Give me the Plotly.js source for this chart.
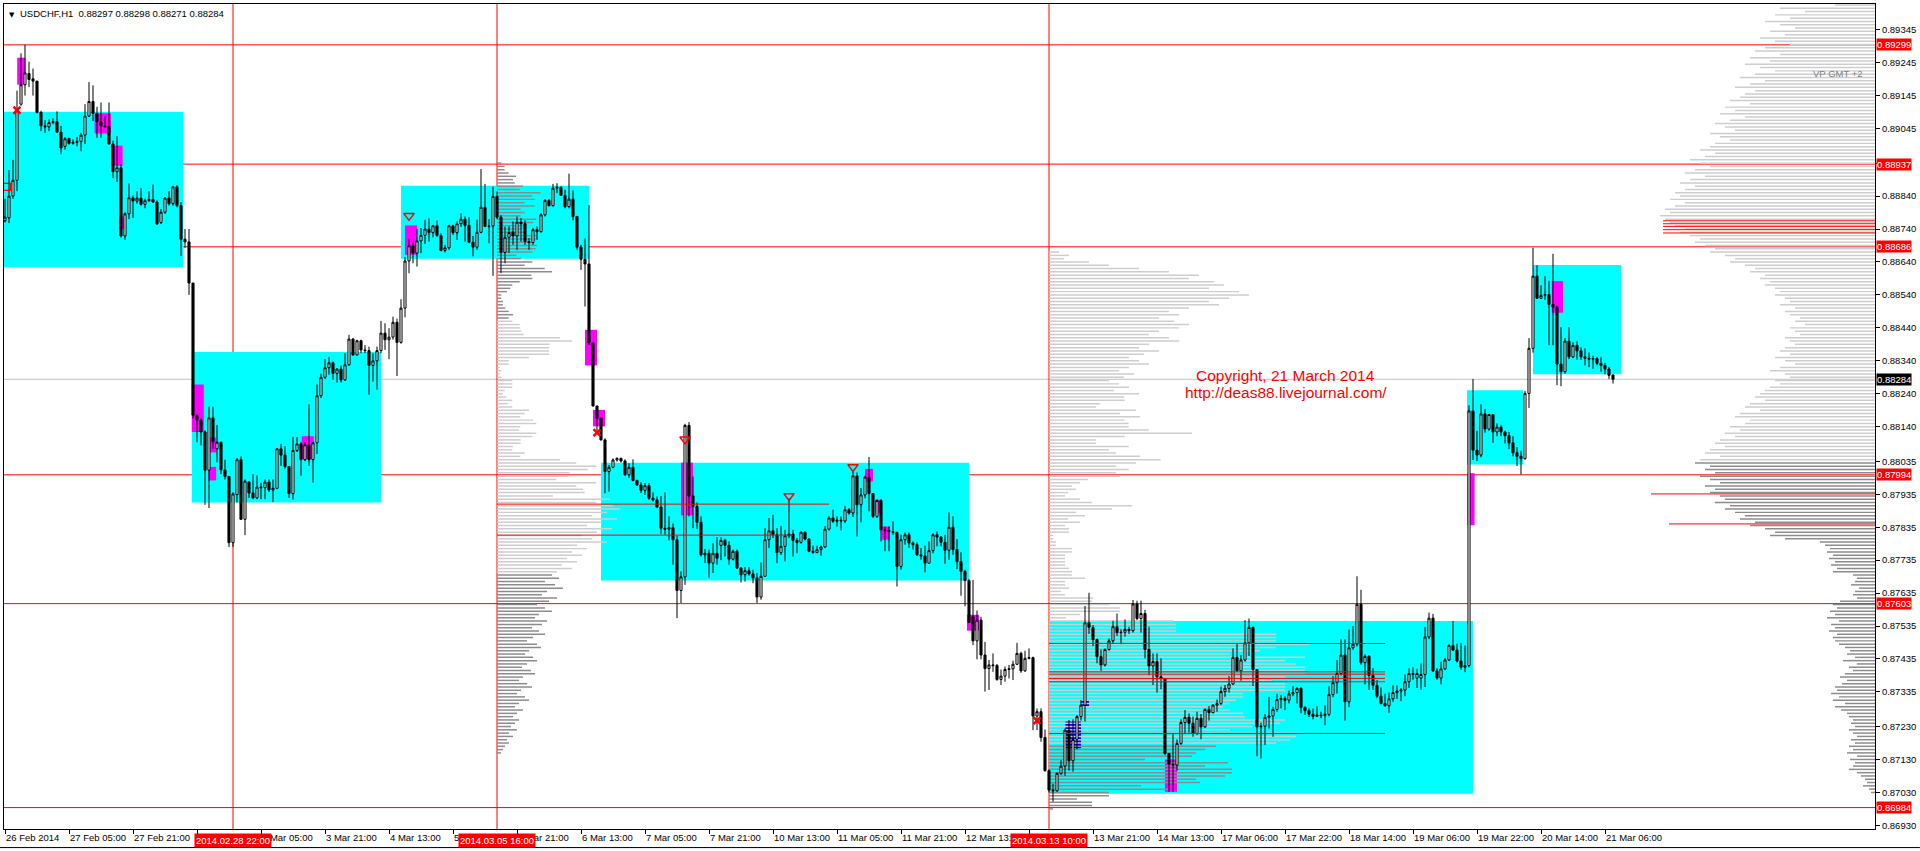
<!DOCTYPE html>
<html><head><meta charset="utf-8">
<script src="https://cdn.plot.ly/plotly-3.0.1.min.js"></script>
<style>html,body{margin:0;padding:0;background:#fff;overflow:hidden}#chart{width:1920px;height:851px}</style>
</head><body><div id="chart"></div>
<script>
// ---------- candles (USDCHF H1), bar index 0 = 26 Feb 2014 13:00 ----------
const openP = [
.88765,.88774,.88840,.88888,.89119,.89178,.89212,.89196,.89189,.89094,
.89053,.89050,.89063,.89066,.89034,.88991,.89015,.89000,.89003,.89006,
.89025,.89083,.89127,.89091,.89066,.89053,.89051,.88998,.88914,.88926,
.88719,.88786,.88835,.88825,.88834,.88815,.88826,.88830,.88822,.88760,
.88791,.88834,.88817,.88868,.88811,.88709,.88701,.88576,.88175,.88160,
.88124,.88008,.88167,.88073,.88093,.88009,.87989,.87788,.87934,.88040,
.87859,.87972,.87939,.87924,.87957,.87955,.87972,.87948,.87953,.88073,
.88054,.88019,.87937,.88068,.88088,.88040,.88085,.88040,.88091,.88234,
.88290,.88319,.88334,.88302,.88315,.88282,.88328,.88406,.88358,.88401,
.88373,.88371,.88326,.88340,.88371,.88424,.88404,.88412,.88457,.88396,
.88500,.88643,.88689,.88667,.88704,.88721,.88740,.88729,.88750,.88720,
.88675,.88683,.88750,.88729,.88756,.88770,.88751,.88700,.88685,.88730,
.88806,.88748,.88749,.88839,.88776,.88669,.88715,.88732,.88719,.88761,
.88756,.88702,.88699,.88738,.88732,.88783,.88827,.88811,.88864,.88867,
.88842,.88808,.88831,.88778,.88685,.88648,.88634,.88394,.88203,.88166,
.88100,.88004,.88017,.88039,.88044,.88036,.87994,.88017,.87977,.87963,
.87947,.87961,.87923,.87918,.87896,.87832,.87829,.87834,.87797,.87643,
.87684,.88144,.87930,.87898,.87850,.87751,.87756,.87726,.87756,.87780,
.87795,.87780,.87738,.87762,.87711,.87691,.87703,.87693,.87681,.87623,
.87686,.87797,.87824,.87812,.87758,.87777,.87809,.87814,.87795,.87789,
.87820,.87799,.87762,.87758,.87767,.87775,.87829,.87863,.87853,.87856,
.87854,.87888,.87878,.87991,.87903,.87933,.87987,.87937,.87868,.87916,
.87827,.87825,.87822,.87819,.87716,.87797,.87812,.87787,.87782,.87751,
.87748,.87726,.87764,.87812,.87805,.87789,.87765,.87835,.87767,.87731,
.87701,.87673,.87563,.87490,.87553,.87447,.87406,.87417,.87415,.87373,
.87383,.87403,.87405,.87419,.87452,.87399,.87437,.87439,.87262,.87275,
.87197,.87096,.87037,.87035,.87088,.87110,.87219,.87126,.87191,.87260,
.87295,.87545,.87531,.87494,.87442,.87417,.87464,.87490,.87533,.87515,
.87516,.87525,.87521,.87602,.87558,.87573,.87464,.87414,.87427,.87381,
.87376,.87148,.87116,.87113,.87179,.87242,.87258,.87240,.87209,.87255,
.87229,.87282,.87272,.87295,.87300,.87336,.87346,.87359,.87440,.87399,
.87432,.87484,.87531,.87403,.87229,.87231,.87258,.87262,.87282,.87312,
.87315,.87310,.87329,.87333,.87346,.87288,.87278,.87267,.87261,.87265,
.87263,.87267,.87327,.87363,.87391,.87447,.87305,.87469,.87480,.87601,
.87424,.87443,.87385,.87355,.87322,.87300,.87293,.87314,.87333,.87338,
.87341,.87366,.87388,.87377,.87377,.87388,.87502,.87559,.87399,.87377,
.87405,.87432,.87476,.87462,.87429,.87410,.87415,.88188,.88069,.88054,
.88179,.88133,.88177,.88124,.88139,.88124,.88113,.88091,.88061,.88050,
.88043,.88241,.88378,.88597,.88530,.88539,.88541,.88511,.88503,.88330,
.88307,.88400,.88352,.88387,.88370,.88352,.88348,.88345,.88347,.88332,
.88326,.88315,.88297];
const highP = [
.88832,.88919,.88950,.89160,.89273,.89299,.89248,.89227,.89189,.89099,
.89070,.89073,.89076,.89097,.89053,.89019,.89017,.89012,.89019,.89032,
.89119,.89186,.89176,.89111,.89124,.89083,.89124,.89008,.89022,.88935,
.88791,.88878,.88842,.88855,.88865,.88832,.88855,.88875,.88827,.88801,
.88837,.88855,.88871,.88873,.88822,.88740,.88740,.88576,.88178,.88165,
.88129,.88201,.88201,.88145,.88095,.88040,.87989,.87941,.88045,.88050,
.87980,.87975,.87996,.87992,.87970,.87980,.87980,.87980,.88075,.88088,
.88081,.88021,.88109,.88109,.88094,.88093,.88208,.88095,.88268,.88301,
.88345,.88352,.88338,.88318,.88325,.88363,.88419,.88409,.88404,.88404,
.88388,.88383,.88363,.88383,.88461,.88454,.88439,.88474,.88468,.88527,
.88655,.88711,.88699,.88741,.88743,.88768,.88773,.88753,.88766,.88727,
.88692,.88753,.88753,.88763,.88788,.88778,.88776,.88719,.88768,.88922,
.88877,.88770,.88869,.88854,.88783,.88747,.88748,.88763,.88778,.88773,
.88766,.88712,.88743,.88748,.88788,.88831,.88831,.88877,.88879,.88869,
.88859,.88908,.88857,.88780,.88692,.88712,.88813,.88394,.88203,.88166,
.88105,.88024,.88044,.88047,.88046,.88041,.88029,.88041,.87979,.87971,
.87969,.87969,.87941,.87928,.87930,.87941,.87868,.87847,.87809,.87701,
.88149,.88154,.87989,.87910,.87868,.87769,.87767,.87787,.87805,.87805,
.87800,.87792,.87767,.87767,.87714,.87714,.87714,.87706,.87696,.87728,
.87832,.87863,.87873,.87832,.87839,.87827,.87923,.87827,.87802,.87822,
.87822,.87802,.87779,.87779,.87779,.87839,.87868,.87888,.87868,.87868,
.87900,.87893,.88004,.88001,.87954,.87991,.88048,.87939,.87920,.87920,
.87837,.87837,.87853,.87822,.87812,.87819,.87819,.87792,.87789,.87772,
.87779,.87792,.87817,.87822,.87808,.87812,.87880,.87868,.87799,.87759,
.87706,.87678,.87675,.87582,.87563,.87487,.87432,.87452,.87420,.87403,
.87412,.87417,.87430,.87484,.87457,.87460,.87467,.87442,.87285,.87285,
.87221,.87100,.87057,.87090,.87128,.87224,.87250,.87252,.87265,.87310,
.87596,.87636,.87538,.87497,.87464,.87467,.87497,.87551,.87573,.87525,
.87555,.87533,.87614,.87612,.87612,.87584,.87533,.87452,.87452,.87437,
.87376,.87150,.87209,.87191,.87252,.87280,.87270,.87260,.87275,.87268,
.87285,.87292,.87298,.87312,.87351,.87356,.87383,.87467,.87482,.87447,
.87553,.87558,.87533,.87403,.87242,.87268,.87320,.87290,.87329,.87326,
.87322,.87339,.87353,.87349,.87349,.87292,.87285,.87285,.87292,.87275,
.87294,.87352,.87383,.87432,.87495,.87495,.87524,.87535,.87686,.87645,
.87449,.87447,.87407,.87371,.87349,.87330,.87333,.87355,.87355,.87347,
.87388,.87407,.87410,.87405,.87421,.87532,.87576,.87572,.87407,.87427,
.87438,.87480,.87550,.87482,.87484,.87476,.88205,.88285,.88128,.88208,
.88194,.88179,.88177,.88150,.88144,.88128,.88124,.88111,.88078,.88067,
.88249,.88409,.88683,.88630,.88569,.88597,.88583,.88665,.88508,.88442,
.88409,.88442,.88396,.88400,.88381,.88378,.88365,.88356,.88352,.88352,
.88334,.88321,.88298];
const lowP = [
.88760,.88758,.88832,.88855,.89114,.89145,.89171,.89145,.89091,.89037,
.89032,.89037,.89058,.89032,.88967,.88981,.88996,.88996,.88991,.88976,
.88998,.89080,.89068,.89017,.89017,.89047,.88996,.88894,.88883,.88714,
.88707,.88770,.88774,.88817,.88811,.88803,.88823,.88820,.88752,.88755,
.88786,.88811,.88811,.88806,.88658,.88683,.88540,.88165,.88093,.88083,
.87903,.87893,.88073,.88032,.87996,.87980,.87775,.87775,.87910,.87859,
.87811,.87924,.87920,.87920,.87920,.87920,.87942,.87911,.87950,.88021,
.88013,.87924,.87919,.88063,.87991,.88035,.88021,.87970,.88057,.88227,
.88285,.88298,.88282,.88274,.88274,.88279,.88325,.88355,.88356,.88363,
.88363,.88237,.88277,.88252,.88363,.88373,.88345,.88404,.88294,.88392,
.88472,.88606,.88636,.88626,.88667,.88695,.88702,.88715,.88717,.88672,
.88669,.88677,.88722,.88707,.88746,.88702,.88697,.88657,.88677,.88727,
.88746,.88697,.88598,.88770,.88606,.88636,.88667,.88692,.88677,.88702,
.88692,.88677,.88692,.88707,.88729,.88778,.88808,.88808,.88849,.88841,
.88803,.88803,.88766,.88677,.88616,.88505,.88388,.88201,.88125,.88098,
.87938,.87943,.88014,.88034,.88031,.87991,.87984,.87974,.87960,.87939,
.87933,.87918,.87913,.87893,.87815,.87812,.87795,.87721,.87559,.87605,
.87660,.87868,.87832,.87829,.87746,.87726,.87681,.87696,.87721,.87735,
.87746,.87721,.87734,.87708,.87667,.87670,.87688,.87665,.87605,.87615,
.87684,.87772,.87802,.87726,.87751,.87731,.87802,.87746,.87756,.87785,
.87795,.87759,.87754,.87756,.87748,.87772,.87825,.87848,.87837,.87825,
.87848,.87873,.87866,.87807,.87850,.87923,.87883,.87863,.87863,.87792,
.87762,.87762,.87812,.87655,.87706,.87782,.87772,.87767,.87748,.87736,
.87698,.87724,.87756,.87777,.87777,.87724,.87736,.87751,.87708,.87627,
.87595,.87544,.87477,.87434,.87434,.87336,.87341,.87396,.87369,.87356,
.87366,.87376,.87371,.87417,.87393,.87396,.87434,.87219,.87219,.87184,
.87093,.87030,.87002,.87032,.87083,.87080,.87096,.87093,.87161,.87248,
.87245,.87511,.87474,.87422,.87399,.87412,.87460,.87482,.87505,.87480,
.87503,.87511,.87515,.87553,.87515,.87437,.87386,.87356,.87333,.87343,
.87143,.87032,.87032,.87096,.87174,.87209,.87211,.87199,.87204,.87191,
.87226,.87248,.87270,.87275,.87295,.87320,.87333,.87356,.87396,.87369,
.87427,.87444,.87353,.87140,.87133,.87174,.87224,.87199,.87275,.87285,
.87280,.87300,.87322,.87300,.87270,.87265,.87259,.87252,.87259,.87255,
.87234,.87261,.87319,.87330,.87385,.87248,.87289,.87463,.87473,.87418,
.87358,.87341,.87341,.87316,.87297,.87290,.87272,.87305,.87314,.87307,
.87322,.87347,.87372,.87347,.87341,.87350,.87495,.87396,.87372,.87358,
.87402,.87429,.87460,.87424,.87402,.87395,.87410,.88039,.88036,.88047,
.88122,.88128,.88091,.88111,.88111,.88089,.88072,.88050,.88021,.87995,
.88040,.88197,.88365,.88528,.88528,.88525,.88387,.88387,.88266,.88263,
.88301,.88345,.88348,.88343,.88343,.88326,.88321,.88315,.88326,.88307,
.88299,.88285,.88271];
const closeP = [
.88776,.88840,.88888,.89099,.89178,.89214,.89194,.89189,.89094,.89053,
.89050,.89063,.89066,.89034,.88986,.89014,.89000,.89003,.89006,.89025,
.89083,.89127,.89091,.89066,.89053,.89051,.88998,.88914,.88926,.88719,
.88786,.88835,.88825,.88834,.88815,.88826,.88830,.88822,.88755,.88791,
.88834,.88817,.88868,.88811,.88709,.88701,.88576,.88175,.88160,.88124,
.88008,.88167,.88095,.88093,.88009,.87989,.87788,.87936,.88040,.87859,
.87975,.87939,.87924,.87957,.87955,.87972,.87948,.87953,.88073,.88054,
.88019,.87937,.88068,.88088,.88040,.88085,.88040,.88091,.88234,.88290,
.88319,.88334,.88302,.88315,.88282,.88328,.88406,.88358,.88401,.88373,
.88371,.88326,.88340,.88371,.88424,.88404,.88412,.88457,.88396,.88500,
.88643,.88689,.88667,.88704,.88721,.88740,.88729,.88750,.88720,.88675,
.88683,.88750,.88729,.88756,.88770,.88751,.88700,.88685,.88730,.88806,
.88748,.88749,.88839,.88776,.88669,.88715,.88729,.88719,.88761,.88756,
.88702,.88699,.88738,.88732,.88783,.88827,.88811,.88864,.88867,.88842,
.88808,.88831,.88778,.88685,.88648,.88634,.88394,.88203,.88166,.88100,
.88004,.88017,.88039,.88044,.88036,.87994,.88017,.87977,.87963,.87947,
.87961,.87923,.87918,.87896,.87832,.87829,.87834,.87797,.87643,.87684,
.88144,.87930,.87898,.87850,.87751,.87756,.87726,.87756,.87741,.87795,
.87780,.87738,.87762,.87711,.87691,.87703,.87693,.87681,.87623,.87686,
.87797,.87824,.87812,.87758,.87777,.87809,.87814,.87795,.87789,.87820,
.87799,.87762,.87758,.87767,.87775,.87829,.87863,.87853,.87856,.87854,
.87888,.87878,.87991,.87903,.87933,.87987,.87937,.87868,.87916,.87827,
.87825,.87822,.87819,.87716,.87797,.87812,.87787,.87782,.87751,.87748,
.87726,.87764,.87812,.87805,.87789,.87765,.87835,.87767,.87731,.87701,
.87673,.87546,.87490,.87553,.87447,.87406,.87417,.87415,.87373,.87383,
.87403,.87405,.87419,.87452,.87399,.87437,.87439,.87262,.87275,.87197,
.87096,.87037,.87035,.87088,.87110,.87219,.87126,.87191,.87260,.87295,
.87545,.87531,.87494,.87442,.87417,.87464,.87490,.87533,.87515,.87516,
.87525,.87521,.87602,.87558,.87573,.87464,.87414,.87427,.87381,.87376,
.87148,.87116,.87113,.87179,.87242,.87258,.87240,.87209,.87255,.87229,
.87282,.87272,.87295,.87300,.87336,.87346,.87359,.87440,.87399,.87432,
.87484,.87531,.87403,.87229,.87231,.87258,.87262,.87282,.87312,.87315,
.87310,.87329,.87333,.87346,.87288,.87278,.87267,.87261,.87265,.87263,
.87267,.87327,.87363,.87391,.87447,.87305,.87469,.87480,.87601,.87424,
.87443,.87385,.87355,.87322,.87300,.87293,.87314,.87333,.87338,.87341,
.87366,.87391,.87391,.87391,.87388,.87502,.87559,.87399,.87377,.87405,
.87432,.87476,.87462,.87429,.87410,.87415,.88188,.88069,.88054,.88179,
.88133,.88177,.88124,.88139,.88124,.88113,.88091,.88061,.88050,.88043,
.88241,.88378,.88597,.88530,.88539,.88541,.88511,.88503,.88330,.88307,
.88400,.88352,.88387,.88370,.88352,.88348,.88345,.88347,.88332,.88326,
.88315,.88296,.88284];

// ---------- axis labels ----------
const xTickBars = [0,16,32,48,64,80,96,112,128,144,160,176,192,208,224,240,256,272,288,304,320,336,352,368,384,400];
const xTickText = ['26 Feb 2014','27 Feb 05:00','27 Feb 21:00','28 Feb 13:00','3 Mar 05:00','3 Mar 21:00','4 Mar 13:00','5 Mar 05:00','5 Mar 21:00','6 Mar 13:00','7 Mar 05:00','7 Mar 21:00','10 Mar 13:00','11 Mar 05:00','11 Mar 21:00','12 Mar 13:00','13 Mar 05:00','13 Mar 21:00','14 Mar 13:00','17 Mar 06:00','17 Mar 22:00','18 Mar 14:00','19 Mar 06:00','19 Mar 22:00','20 Mar 14:00','21 Mar 06:00'];
const yTickVals = [0.89345,0.89245,0.89145,0.89045,0.88940,0.88840,0.88740,0.88640,0.88540,0.88440,0.88340,0.88240,0.88140,0.88035,0.87935,0.87835,0.87735,0.87635,0.87535,0.87435,0.87335,0.87230,0.87130,0.87030,0.86930];

// ---------- levels / markup ----------
const redLevels = [0.89299,0.88937,0.88686,0.87994,0.87603,0.86984];
const bidPrice = 0.88284;
const vlineBars = [57,123,261];
const vlineText = ['2014.02.28 22:00','2014.03.05 16:00','2014.03.13 10:00'];

const zoneX0 = [-1,46.7,99,149,261,365.5,382];
const zoneX1 = [44.6,94,146,241,367,379.5,404];
const zoneLo = [0.88624,0.87910,0.88650,0.87673,0.87026,0.88025,0.88299];
const zoneHi = [0.89096,0.88367,0.88871,0.88031,0.87550,0.88251,0.88631];

const magX0 = [3.05,22.4,26.5,28.5,46.7,50.9,50.9,74.2,100,145,147,169,215,217.5,219.2,240.5,290,365.6,386.7];
const magX1 = [5.1,26.5,29.4,29.9,49.7,52.8,52.8,77.2,103,148,150,172,217,219.2,221.2,243.5,293,367.4,389.5];
const magLo = [0.89178,0.89030,0.88932,0.88740,0.88124,0.88062,0.87977,0.88042,0.88662,0.88326,0.88141,0.87871,0.87974,0.87878,0.87797,0.87521,0.87032,0.87841,0.88486];
const magHi = [0.89260,0.89091,0.88993,0.88778,0.88268,0.88107,0.88018,0.88111,0.88751,0.88434,0.88191,0.88031,0.88012,0.87918,0.87837,0.87569,0.87130,0.87999,0.88582];

const blueX0 = [265.1,269.1];
const blueX1 = [269.0,271.0];
const blueLo = [0.87164,0.87292];
const blueHi = [0.87245,0.87310];

const arrowBars = [101,170,196,212];
const arrowPrices = [0.88780,0.88102,0.87930,0.88018];
const crossBars = [3,148,258];
const crossPrices = [0.89101,0.88122,0.87248];
const boxSignalBars = [0.5];
const boxSignalPrices = [0.88868];

// volume-profile red level lines
const pocPrices = [0.88765,0.88756,0.88748,0.88738,0.88728,0.87936,0.87845,0.87482,0.87396,0.87389,0.87376,0.87366,0.87209,0.87905,0.87811];
const pocStart  = [414.5,414.5,414.5,414.5,414.5,411.5,416,261,261,261,261,261,261,123,123];
const pocEnd    = [467.5,467.5,467.5,467.5,467.5,467.5,467.5,345,345,345,345,345,345,206,197];

// ---------- volume profiles (volume per 0.0001 price bin, top bin first) ----------
const vpStep = 0.0001;
const vp1Start = 123, vp1Top = 0.88940;
const vp1Vol = [4.3,7.7,7.7,11.7,19,16,17.7,26,22.7,43.7,35,37.7,27.7,37.7,23.7,27.7,23.7,39.3,36,30,25.3,28.7,39.3,38.7,36,40,38.7,35.3,19.3,24.3,35.3,27.7,47.7,55,34.3,35.3,22.7,15.3,13.3,10,4.3,4.3,6,6,8.3,11.7,16,11.7,
15.3,22.7,23.3,24.3,26.7,63,75,52.7,52,52,52,32,11.7,11.7,2.7,4.3,2.7,4.3,15.3,15.3,15.3,7.7,6,9.3,15.3,11,15.3,32,27.7,23.3,36,39.3,23.3,22,39.3,35.3,23.7,23.7,16,15.3,27.7,23.3,63,79.3,99.3,91,72.7,71,59.3,99.3,79.3,86,87.7,56,112.7,99.3,116,122.7,
110,95,120,105,90,115,100,85,95,110,80,90,75,85,70,80,65,75,60,
55,62,48,58,66,50,45,60,52,40,48,55,42,38,50,45,35,42,48,36,30,40,44,32,
28,36,40,30,25,34,38,26,22,30,35,24,20,28,32,22,18,26,20,16,22,18,14,20,12,16,10,12,8,6,4];
const vp2Start = 261, vp2Top = 0.88670;
const vp2Vol = [10,20,15,40,60,90,120,150,140,165,175,160,190,200,180,160,170,140,120,130,110,125,140,130,110,100,120,130,100,90,110,95,80,90,100,80,70,85,75,60,70,80,65,90,75,
75.7,51,47,87,71,91,75.7,79.7,79.7,99.7,143,75.7,47,47,79.7,60,67,91,111.7,87,67,79.7,67,71,39,31,23,27,19,16,31,43,83,63,27,36,19,31,16,20,20,4,4,7,7,23,23,16,16,16,16,20,23,23,36,16,16,20,12,16,44,43,60,71,71,31,17,124,127,127,127,227,227,227,260,227,211,181,256,236,247,256,256,256,236,223,236,236,236,194,194,187,181,174,181,194,196,236,231,203,181,251,247,241,227,167,156,147,143,96,179,156,183,183,176,147,151,92,119,60,60,28,43,43,4];
const vp3End = 467.5, vp3Top = 0.89420;
const vp3Vol = [40,95,70,100,85,110,95,80,105,90,115,100,85,
110,120,95,125,105,130,115,100,120,135,110,125,140,120,130,
135,145,125,150,140,155,130,145,160,150,140,165,155,145,160,
165,175,160,170,185,175,165,180,190,170,185,195,180,190,200,
195,205,190,200,210,205,215,210,205,200,190,195,185,175,180,
170,160,165,150,140,145,130,120,125,110,115,105,110,100,95,
100,90,85,95,80,90,85,75,80,70,85,80,75,90,85,
80,90,95,85,100,90,80,95,105,90,85,100,95,105,110,
115,120,110,125,130,115,135,140,125,130,145,135,150,140,155,
160,150,165,170,155,175,180,165,170,160,175,165,155,170,160,
165,155,150,160,145,150,140,130,135,120,125,110,100,105,90,
55,50,45,48,42,46,40,44,38,42,22,18,20,24,16,
20,22,18,35,42,38,45,40,48,36,44,40,46,38,42,
40,36,30,25,28,20,32,18,26,22,30,35,28,33,40,
38,44,36,42,30,40,34,28,26,22,24,20,26,22,18,
24,20,26,22,28,18,25,20,22,26,18,14,10,8,12,
6,4,0,0,0,0,0,0,0,0,0,0,0];
const vpScale = 0.25; // bars of chart width per volume unit

// ---------- build ----------
const FONT = 'Liberation Sans, Arial, sans-serif';
const LIGHT = '#cdcdcd', DARK = '#8c8c8c';
const bars = openP.map((_, i) => i);
const last = openP.length - 1;

// tick labels that sit under the red time markers are hidden, as in the terminal
const coveredTicks = ['28 Feb 13:00', '13 Mar 05:00'];
const xTickShown = xTickText.map(t => coveredTicks.includes(t) ? '' : t);
// price tick hidden under the 0.88937 red level tag
const yTickShown = yTickVals.map(v => Math.abs(v - 0.88940) < 1e-7 ? '' : v.toFixed(5));

function vpTrace(vol, top, baseFn, colorFn) {
  const y = [], x = [], base = [], col = [];
  vol.forEach((v, k) => {
    const p = top - k * vpStep;
    y.push(p); x.push(v * vpScale); base.push(baseFn(v * vpScale)); col.push(colorFn(p));
  });
  return {type:'bar', orientation:'h', y, x, base, width:0.000045,
          marker:{color:col, line:{width:0}}, hoverinfo:'skip', showlegend:false};
}
const traces = [
  vpTrace(vp1Vol, vp1Top, () => vp1Start, p => (p >= 0.88465 || p <= 0.87695) ? DARK : LIGHT),
  vpTrace(vp2Vol, vp2Top, () => vp2Start, p => p >= 0.87175 ? LIGHT : DARK),
  vpTrace(vp3Vol, vp3Top, len => vp3End - len, p => p >= 0.88035 ? LIGHT : DARK),
  {type:'candlestick', x:bars, open:openP, high:highP, low:lowP, close:closeP,
   increasing:{line:{color:'#000', width:1}, fillcolor:'#ffffff'},
   decreasing:{line:{color:'#000', width:1}, fillcolor:'#000000'},
   whiskerwidth:0, hoverinfo:'skip', showlegend:false},
  {type:'scatter', mode:'markers', x:arrowBars, y:arrowPrices, hoverinfo:'skip', showlegend:false,
   marker:{symbol:'triangle-down-open', size:9, color:'#ff0000', line:{width:1.5, color:'#ff0000'}}},
  {type:'scatter', mode:'markers', x:crossBars, y:crossPrices, hoverinfo:'skip', showlegend:false,
   marker:{symbol:'x-thin-open', size:7, color:'#ff0000', line:{width:2.5, color:'#ff0000'}}},
  {type:'scatter', mode:'markers', x:boxSignalBars, y:boxSignalPrices, hoverinfo:'skip', showlegend:false,
   marker:{symbol:'square-open', size:7, color:'#ff0000', line:{width:1.2, color:'#ff0000'}}}
];

const shapes = [];
zoneX0.forEach((x0, k) => shapes.push({type:'rect', xref:'x', yref:'y', x0, x1:zoneX1[k], y0:zoneLo[k], y1:zoneHi[k], fillcolor:'#00ffff', line:{width:0}, layer:'below'}));
magX0.forEach((x0, k) => shapes.push({type:'rect', xref:'x', yref:'y', x0, x1:magX1[k], y0:magLo[k], y1:magHi[k], fillcolor:'#ff00ff', line:{width:0}, layer:'below'}));
blueX0.forEach((x0, k) => shapes.push({type:'rect', xref:'x', yref:'y', x0, x1:blueX1[k], y0:blueLo[k], y1:blueHi[k], fillcolor:'#0000ff', line:{width:0}, layer:'below'}));
shapes.push({type:'line', xref:'paper', x0:0, x1:1, yref:'y', y0:bidPrice, y1:bidPrice, line:{color:'#c0c0c0', width:1}, layer:'below'});
redLevels.forEach(p => shapes.push({type:'line', xref:'paper', x0:0, x1:1, yref:'y', y0:p, y1:p, line:{color:'#ff0000', width:1}, layer:'below'}));
vlineBars.forEach(b => shapes.push({type:'line', xref:'x', x0:b, x1:b, yref:'paper', y0:0, y1:1, line:{color:'#ff0000', width:1}, layer:'below'}));
pocPrices.forEach((p, k) => shapes.push({type:'line', xref:'x', x0:pocStart[k], x1:pocEnd[k], yref:'y', y0:p, y1:p, line:{color:'#ff0000', width:1}, layer:'above'}));
// terminal window bottom edge
shapes.push({type:'line', xref:'paper', x0:-0.003, x1:1.024, yref:'paper', y0:-0.0225, y1:-0.0225, line:{color:'#000', width:1}});

const annotations = [];
annotations.push({xref:'paper', yref:'paper', x:0, y:1, xanchor:'left', yanchor:'top', xshift:3, yshift:-5,
  text:'▼', showarrow:false, font:{family:'DejaVu Sans', size:7, color:'#000'}});
annotations.push({xref:'paper', yref:'paper', x:0, y:1, xanchor:'left', yanchor:'top', xshift:14, yshift:-2,
  text:'USDCHF,H1&nbsp; ' + [openP[last], highP[last], lowP[last], closeP[last]].map(v => v.toFixed(5)).join(' '),
  showarrow:false, font:{family:FONT, size:9.5, color:'#000'}});
redLevels.forEach(p => annotations.push({xref:'paper', x:1, xanchor:'left', xshift:1, yref:'y', y:p, yanchor:'middle',
  text:p.toFixed(5), showarrow:false, bgcolor:'#ff0000', borderpad:0, font:{family:FONT, size:9.5, color:'#fff'}}));
annotations.push({xref:'paper', x:1, xanchor:'left', xshift:1, yref:'y', y:bidPrice, yanchor:'middle',
  text:bidPrice.toFixed(5), showarrow:false, bgcolor:'#000000', borderpad:0, font:{family:FONT, size:9.5, color:'#fff'}});
vlineBars.forEach((b, k) => annotations.push({xref:'x', x:b, xanchor:'center', yref:'paper', y:0, yanchor:'top', yshift:-4,
  text:vlineText[k], showarrow:false, bgcolor:'#ff0000', borderpad:1, font:{family:FONT, size:9.5, color:'#fff'}}));
annotations.push({xref:'paper', yref:'paper', x:1, y:1, xanchor:'right', yanchor:'top', xshift:-10, yshift:-62,
  text:'VP GMT +2', showarrow:false, font:{family:FONT, size:9.5, color:'#808080'}});
annotations.push({xref:'paper', yref:'paper', x:0.6847, y:0.5503, xanchor:'center', yanchor:'middle',
  text:'Copyright, 21 March 2014', showarrow:false, font:{family:FONT, size:15.5, color:'#ff0000'}});
annotations.push({xref:'paper', yref:'paper', x:0.6852, y:0.5285, xanchor:'center', yanchor:'middle',
  text:'http://deas88.livejournal.com/', showarrow:false, font:{family:FONT, size:15.5, color:'#ff0000'}});

const layout = {
  width:1920, height:851, autosize:false,
  margin:{l:4, r:45, t:4, b:22, pad:0},
  paper_bgcolor:'#ffffff', plot_bgcolor:'#ffffff',
  showlegend:false, hovermode:false, barmode:'overlay', boxgap:0.28, boxgroupgap:0.28,
  xaxis:{range:[-0.25, 467.5], rangeslider:{visible:false}, showgrid:false, zeroline:false,
         showline:true, linecolor:'#000', linewidth:1, mirror:true,
         tickmode:'array', tickvals:xTickBars, ticktext:xTickShown, tickangle:0, ticks:'outside', ticklen:4, tickcolor:'#000',
         ticklabelposition:'outside right', tickfont:{family:FONT, size:9.5, color:'#000'}, fixedrange:true},
  yaxis:{range:[0.86919, 0.89423], side:'right', showgrid:false, zeroline:false,
         showline:true, linecolor:'#000', linewidth:1, mirror:true,
         tickmode:'array', tickvals:yTickVals, ticktext:yTickShown,
         ticks:'outside', ticklen:4, tickcolor:'#000', tickfont:{family:FONT, size:9.5, color:'#000'}, fixedrange:true},
  shapes, annotations
};
Plotly.newPlot('chart', traces, layout, {staticPlot:true, displayModeBar:false});
</script>
</body></html>
